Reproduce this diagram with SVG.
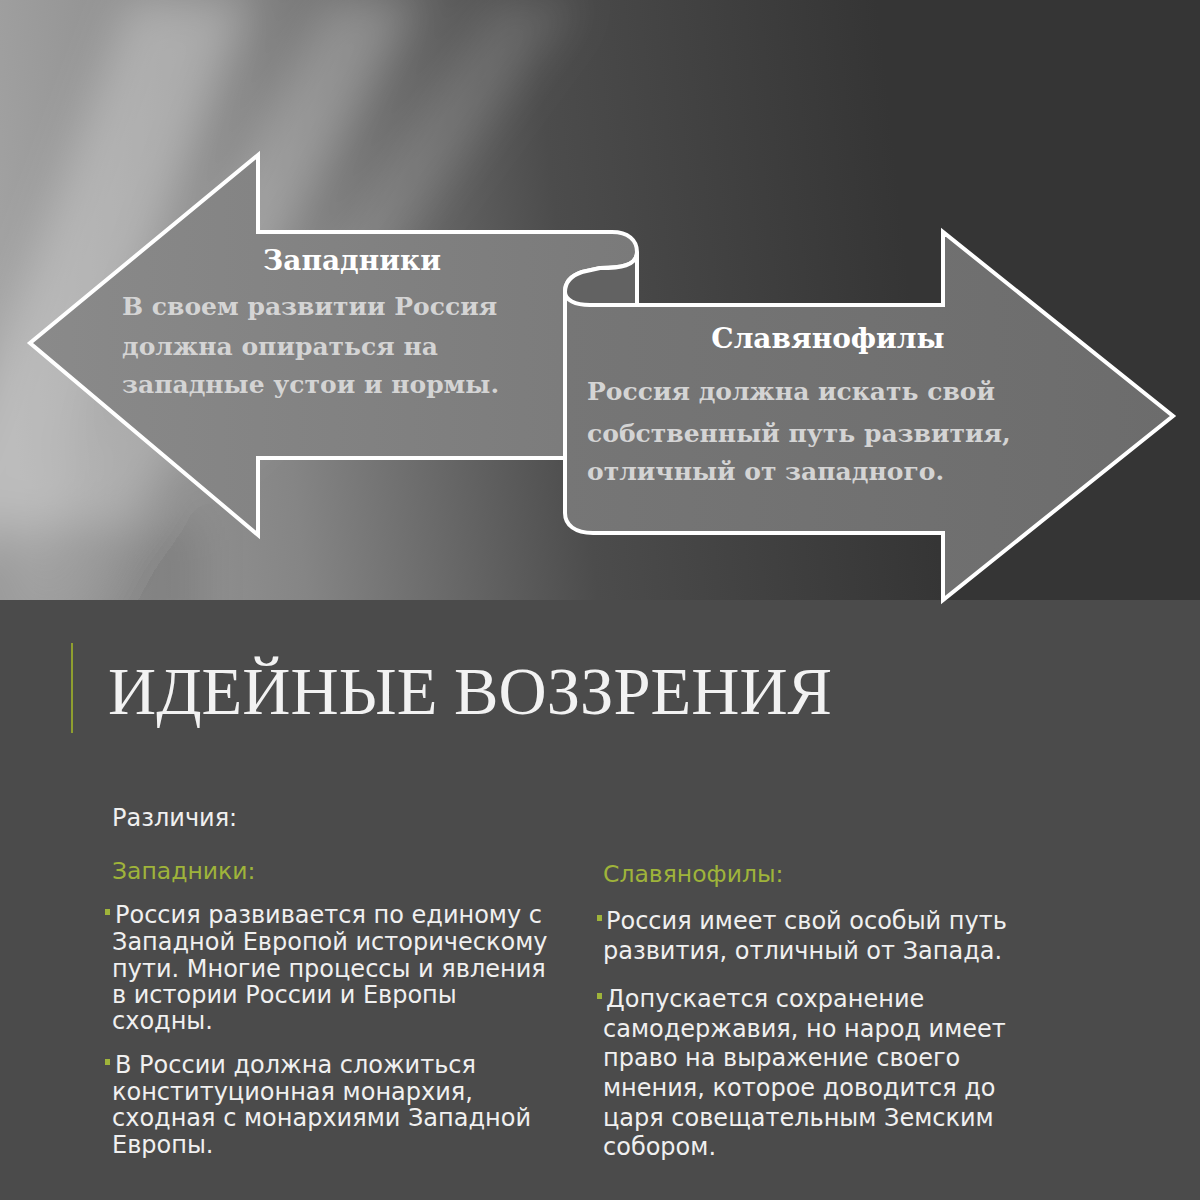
<svg xmlns="http://www.w3.org/2000/svg" width="1200" height="1200" viewBox="0 0 1200 1200">
<defs>
<linearGradient id="bg" x1="0" y1="300" x2="900" y2="200" gradientUnits="userSpaceOnUse">
<stop offset="0" stop-color="#a2a2a2"/>
<stop offset="0.3" stop-color="#858585"/>
<stop offset="0.62" stop-color="#4c4c4c"/>
<stop offset="1" stop-color="#353535"/>
</linearGradient>
<linearGradient id="fillL" x1="0" y1="0" x2="1" y2="0">
<stop offset="0" stop-color="#8a8a8a"/>
<stop offset="1" stop-color="#7a7a7a"/>
</linearGradient>
<linearGradient id="fillR" x1="0" y1="0" x2="1" y2="0">
<stop offset="0" stop-color="#767676"/>
<stop offset="1" stop-color="#6c6c6c"/>
</linearGradient>
<filter id="blur" x="-50%" y="-50%" width="200%" height="200%">
<feGaussianBlur stdDeviation="22"/>
</filter>
<clipPath id="top"><rect x="0" y="0" width="1200" height="600"/></clipPath>
<style>
.arrow{stroke:#ffffff;stroke-width:4;stroke-linejoin:miter}
.head{font-family:"DejaVu Serif","Liberation Serif",serif;font-weight:bold;fill:#ffffff;font-size:28px}
.body{font-family:"DejaVu Serif","Liberation Serif",serif;font-weight:bold;fill:#d4d4d4;font-size:25px}
.title{font-family:"Liberation Serif","DejaVu Serif",serif;fill:#f2f2f2;font-size:68px}
.sans{font-family:"DejaVu Sans","Liberation Sans",sans-serif;fill:#f0f0f0;font-size:24px}
.green{font-family:"DejaVu Sans","Liberation Sans",sans-serif;fill:#9fb43a;font-size:23.5px}
.bul{fill:#9fb43a}
</style>
</defs>

<g id="background">
<rect x="0" y="0" width="1200" height="600" fill="url(#bg)"/>
<g clip-path="url(#top)" filter="url(#blur)">
<polygon points="130,0 250,0 40,560 -80,560" fill="#ffffff" opacity="0.28"/>
<polygon points="330,0 420,0 80,620 -10,620" fill="#ffffff" opacity="0.22"/>
<polygon points="500,0 580,0 240,460 170,460" fill="#ffffff" opacity="0.14"/>
<polygon points="-40,520 200,520 200,640 -40,640" fill="#000000" opacity="0.12"/>
</g>
<rect x="0" y="600" width="1200" height="600" fill="#4b4b4b"/>
</g>

<g id="node-zapadniki">
<path class="arrow" fill="url(#fillL)" d="M30,343 L258,155 L258,232 L612,232 C628,232 637,240 637,252 L637,458 L258,458 L258,535 Z"/>
<text class="head" x="352" y="270" text-anchor="middle">Западники</text>
<text class="body" x="122" y="315">В своем развитии Россия</text>
<text class="body" x="122" y="355">должна опираться на</text>
<text class="body" x="122" y="393">западные устои и нормы.</text>
</g>

<g id="node-slavyanofily">
<path class="arrow" fill="url(#fillR)" d="M637,252 C637,266 620,268 600,268 L582,272 C570,276 565,283 565,292 L565,513 C565,525 575,533 593,533 L943,533 L943,600 L1173,416 L943,232 L943,305 L637,305 Z"/>
<path class="arrow" fill="#626262" d="M637,252 C637,266 620,268 600,268 L582,272 C570,276 565,283 565,292 C565,300 575,305 590,305 L637,305 Z"/>
<text class="head" x="828" y="348" text-anchor="middle">Славянофилы</text>
<text class="body" x="587" y="400">Россия должна искать свой</text>
<text class="body" x="587" y="442">собственный путь развития,</text>
<text class="body" x="587" y="480">отличный от западного.</text>
</g>

<g id="title">
<rect x="71" y="643" width="2" height="90" fill="#8f9f2f"/>
<text class="title" x="108" y="714" textLength="724" lengthAdjust="spacingAndGlyphs">ИДЕЙНЫЕ ВОЗЗРЕНИЯ</text>
</g>

<g id="differences">
<text class="sans" x="112" y="826" font-size="27">Различия:</text>

<g id="col-zapadniki">
<text class="green" x="112" y="879">Западники:</text>
<rect class="bul" x="105" y="909" width="5" height="6"/>
<text class="sans" x="115" y="923">Россия развивается по единому с</text>
<text class="sans" x="112" y="950">Западной Европой историческому</text>
<text class="sans" x="112" y="977">пути. Многие процессы и явления</text>
<text class="sans" x="112" y="1003">в истории России и Европы</text>
<text class="sans" x="112" y="1029">сходны.</text>
<rect class="bul" x="105" y="1059" width="5" height="6"/>
<text class="sans" x="115" y="1073">В России должна сложиться</text>
<text class="sans" x="112" y="1100">конституционная монархия,</text>
<text class="sans" x="112" y="1126">сходная с монархиями Западной</text>
<text class="sans" x="112" y="1153">Европы.</text>
</g>

<g id="col-slavyanofily">
<text class="green" x="603" y="882">Славянофилы:</text>
<rect class="bul" x="597" y="915" width="5" height="6"/>
<text class="sans" x="606" y="929">Россия имеет свой особый путь</text>
<text class="sans" x="603" y="959">развития, отличный от Запада.</text>
<rect class="bul" x="597" y="993" width="5" height="6"/>
<text class="sans" x="606" y="1007">Допускается сохранение</text>
<text class="sans" x="603" y="1037">самодержавия, но народ имеет</text>
<text class="sans" x="603" y="1066">право на выражение своего</text>
<text class="sans" x="603" y="1096">мнения, которое доводится до</text>
<text class="sans" x="603" y="1126">царя совещательным Земским</text>
<text class="sans" x="603" y="1155">собором.</text>
</g>
</g>
</svg>
